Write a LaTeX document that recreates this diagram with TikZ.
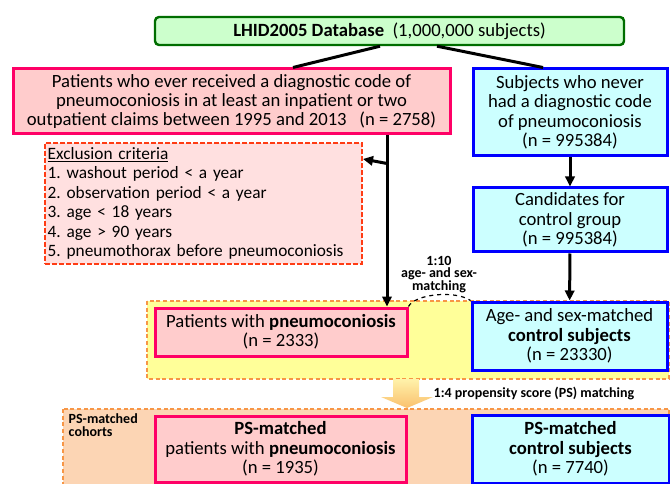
\documentclass[tikz,border=0pt]{standalone}
\usepackage{fontspec}
\setmainfont{Carlito}
\usetikzlibrary{arrows.meta, calc}
\definecolor{pinkfill}{RGB}{255,204,204}
\definecolor{pinkline}{RGB}{255,0,102}
\definecolor{bluefill}{RGB}{204,255,255}
\definecolor{blueline}{RGB}{0,0,255}
\definecolor{greenfill}{RGB}{204,255,204}
\definecolor{greenline}{RGB}{0,110,0}
\definecolor{exfill}{RGB}{255,224,224}
\definecolor{exline}{RGB}{255,60,20}
\definecolor{yellowfill}{RGB}{255,255,153}
\definecolor{peachfill}{RGB}{252,213,180}
\definecolor{orangeline}{RGB}{247,150,70}
\frenchspacing

\begin{document}
\begin{tikzpicture}[x=0.75pt, y=-0.75pt,
    every node/.style={font=\fontsize{14}{14.6}\selectfont, align=center},
    pinkbox/.style={draw=pinkline, fill=pinkfill, line width=2.25pt, inner sep=0pt},
    bluebox/.style={draw=blueline, fill=bluefill, line width=2.25pt, inner sep=0pt},
    dbbox/.style={draw=greenline, fill=greenfill, line width=1.8pt, rounded corners=3pt, inner sep=0pt},
    exbox/.style={draw=exline, fill=exfill, line width=1.5pt, dash pattern=on 3.5pt off 1.75pt, inner xsep=2pt, align=left, font=\fontsize{13}{14.6}\selectfont},
    region/.style={draw=orangeline, line width=1.1pt, dash pattern=on 3pt off 2pt},
    conn/.style={line width=2.25pt},
    tip/.style={-{Triangle[length=7.5pt, width=7pt]}},
    small/.style={font=\fontsize{10.5}{9.6}\selectfont\bfseries}]
    \useasboundingbox (0,0) rectangle (670,484);
    \fill[white] (0,0) rectangle (670,484);
    \draw[region, fill=yellowfill] (147,301) rectangle (669,379);
    \draw[region, fill=peachfill] (63,409) rectangle (669,492);
    \shade[top color={rgb,255:red,255;green,242;blue,170}, bottom color={rgb,255:red,250;green,192;blue,110}]
        (393,379) -- (419,379) -- (419,397) -- (433,397) -- (407,408) -- (381,397) -- (393,397) -- cycle;
    \node[dbbox, minimum width=351.75pt, minimum height=21pt] (DB) at (389.5,31) {\textbf{LHID2005 Database}\ \ (1,000,000 subjects)};
    \node[pinkbox, minimum width=327.75pt, minimum height=48.75pt] (P) at (231.5,101.5)
        {Patients who ever received a diagnostic code of\\pneumoconiosis in at least an inpatient or two\\outpatient claims between 1995 and 2013\ \ \ (n = 2758)};
    \node[bluebox, minimum width=145.5pt, minimum height=65.25pt] (N) at (570,112.5)
        {Subjects who never\\had a diagnostic code\\of pneumoconiosis\\(n = 995384)};
    \node[bluebox, minimum width=145.5pt, minimum height=48pt] (C) at (570,220)
        {Candidates for\\control group\\(n = 995384)};
    \node[exbox, text width=233.75pt, minimum height=87.75pt] (E) at (203.5,203.5)
        {\underline{Exclusion criteria}\\1. washout period < a year\\2. observation period < a year\\3. age < 18 years\\4. age > 90 years\\5. pneumothorax before pneumoconiosis};
    \node[pinkbox, minimum width=189pt, minimum height=36pt] (PM) at (281,332)
        {Patients with \textbf{pneumoconiosis}\\(n = 2333)};
    \node[bluebox, minimum width=146.25pt, minimum height=51pt] (CM) at (569.5,336)
        {Age- and sex-matched\\\textbf{control subjects}\\(n = 23330)};
    \node[pinkbox, minimum width=188.25pt, minimum height=49.5pt] (PS) at (280.5,449)
        {\textbf{PS-matched}\\patients with \textbf{pneumoconiosis}\\(n = 1935)};
    \node[bluebox, minimum width=147.75pt, minimum height=51pt] (CS) at (570.5,449)
        {\textbf{PS-matched}\\\textbf{control subjects}\\(n = 7740)};
    \node[small] (L10) at (439,274.5) {1:10\\age- and sex-\\matching};
    \node[small, anchor=west] (L4) at (429,393) {1:4 propensity score (PS) matching};
    \node[small, anchor=west, align=left] (LC) at (64,425.5) {PS-matched\\cohorts};
    \draw[conn] ($(DB.south)+(-9.5,0)$) -- ($(P.north)+(61.5,0)$);
    \draw[conn] ($(DB.south)+(47.5,0)$) -- ($(N.north)+(-27,0)$);
    \draw[conn, tip] ($(P.south)+(155.5,0)$) -- ($(PM.north)+(106,0)$);
    \draw[conn, tip] ($(P.south)+(155.5,28)$) -- ($(E.north east)+(0,17)$);
    \draw[conn, tip] (N) -- (C);
    \draw[conn, tip] (C) -- (CM);
    \draw[line width=0.9pt, dashed] (PM.north east) .. controls (415,294) and (455,290) .. (CM.north west);
\end{tikzpicture}
\end{document}
